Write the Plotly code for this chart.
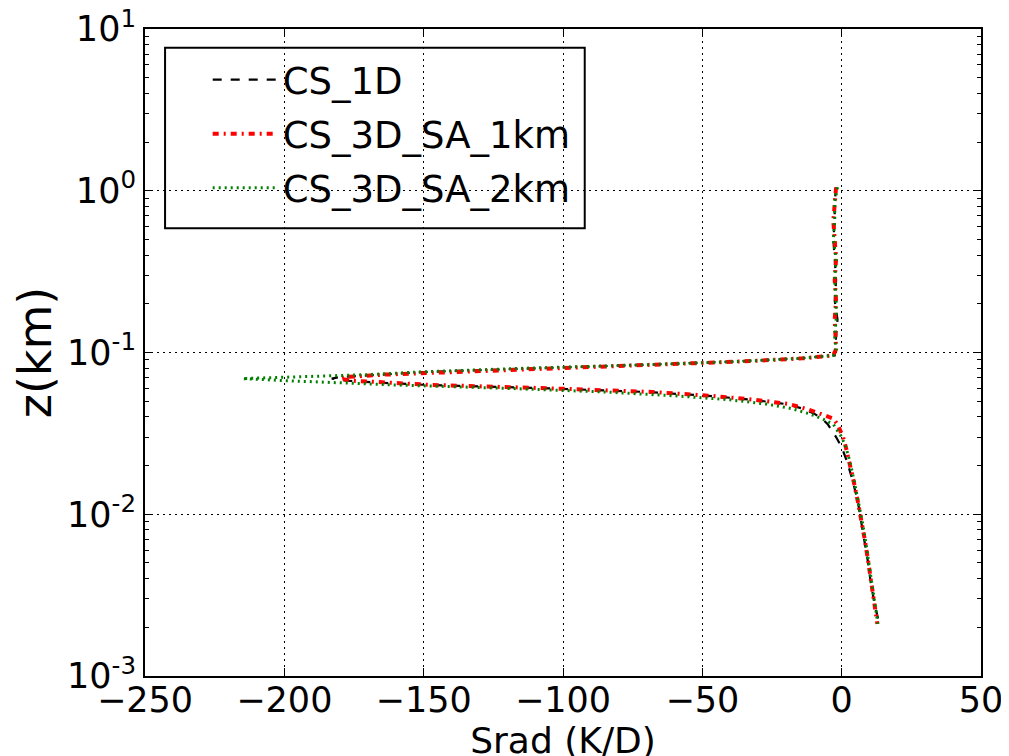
import plotly.graph_objects as go

# height levels (km), shared by all three profiles
z_km = [1.05, 0.85, 0.65, 0.5, 0.38, 0.28, 0.21, 0.16, 0.125, 0.105, 0.096,
        0.092, 0.088, 0.084, 0.080, 0.076, 0.073, 0.0705, 0.069, 0.067, 0.065,
        0.063, 0.060, 0.057, 0.054, 0.051, 0.048, 0.045, 0.042, 0.039, 0.036,
        0.033, 0.030, 0.026, 0.021, 0.016, 0.012, 0.009, 0.0068, 0.005,
        0.0037, 0.0028, 0.0021]

srad_1d = [-2, -2.5, -2.5, -3, -2.5, -2, -2.5, -1.5, -2, -2.5, -2.5,
           -15, -38, -70, -112, -148, -165, -180, -183, -178, -165,
           -148, -105, -70, -48, -32, -20, -14, -10, -7, -5,
           -3.5, -2, 0, 2, 4, 5.8, 7, 8.2, 9.5,
           10.5, 11.8, 13.5]

srad_1km = [-2, -2.5, -3, -2.5, -2, -2.5, -2, -2.5, -2, -2, -3,
            -14, -36, -68, -110, -146, -164, -178, -180, -176, -163,
            -147, -104, -68, -47, -31, -19, -13, -8, -3, -1.5,
            -0.5, 0.5, 1.5, 2.8, 4.3, 5.8, 7.2, 8.4, 9.6,
            10.6, 11.6, 12.8]

srad_2km = [-1.5, -2.5, -2.5, -3, -2, -2.5, -2, -2, -2.5, -2, -3,
            -15, -37, -70, -113, -150, -170, -195, -215, -200, -180,
            -160, -120, -85, -60, -40, -27, -18, -12, -7, -3,
            -1.5, 0, 1.5, 3, 4.5, 6, 7.4, 8.6, 9.8,
            10.8, 11.8, 13]

series = [
    ("CS_1D", srad_1d, "black", 2.2, "dash"),
    ("CS_3D_SA_1km", srad_1km, "red", 4, "6px,5px,2px,5px"),
    ("CS_3D_SA_2km", srad_2km, "green", 3, "2px,4px"),
]

ytick_vals = [0.001, 0.01, 0.1, 1, 10]
ytick_text = ["10<sup>-3</sup>", "10<sup>-2</sup>", "10<sup>-1</sup>",
              "10<sup>0</sup>", "10<sup>1</sup>"]
yminor_vals = [m * d for d in [0.001, 0.01, 0.1, 1] for m in range(2, 10)]

fig = go.Figure()
for i, (name, xs, color, width, dash) in enumerate(series):
    fig.add_trace(go.Scatter(
        x=xs, y=z_km, mode="lines", name=name, legendgroup=str(i),
        line=dict(color=color, width=width, dash=dash),
    ))

axis_common = dict(
    showline=True, linecolor="black", linewidth=2, mirror="allticks",
    ticks="inside", ticklen=8, tickcolor="black", automargin=False,
    ticklabeloverflow="allow",
    showgrid=True, gridcolor="black", gridwidth=1, griddash="1.5px,4.5px",
    zeroline=False, tickfont=dict(size=35, color="black"),
)

# legend frame drawn as a shape so its size matches the original
fig.add_shape(type="rect", xref="paper", yref="paper",
              x0=0.024, x1=0.526, y0=0.692, y1=0.971,
              line=dict(color="black", width=2), fillcolor="white", layer="below")

# the page body adds an 8px offset, margins below account for it
fig.update_layout(
    width=1009, height=756,
    paper_bgcolor="white", plot_bgcolor="white",
    font=dict(family="DejaVu Sans", color="black"),
    margin=dict(l=137, r=36, t=21, b=88),
    xaxis=dict(range=[-250, 50], dtick=50, ticklabelstandoff=-8, **axis_common,
               title=dict(text="Srad (K/D)", font=dict(size=36), standoff=0)),
    yaxis=dict(type="log", range=[-3, 1], tickvals=ytick_vals, ticktext=ytick_text,
               minor=dict(tickvals=yminor_vals, ticks="inside", ticklen=4,
                          tickcolor="black", showgrid=False),
               **axis_common,
               title=dict(text="z(km)", font=dict(size=46), standoff=6)),
    legend=dict(x=0.075, y=0.969, xanchor="left", yanchor="top",
                borderwidth=0, bgcolor="rgba(0,0,0,0)",
                font=dict(size=37), tracegroupgap=3, itemwidth=65),
    showlegend=True,
)

fig.write_html("out.html")
